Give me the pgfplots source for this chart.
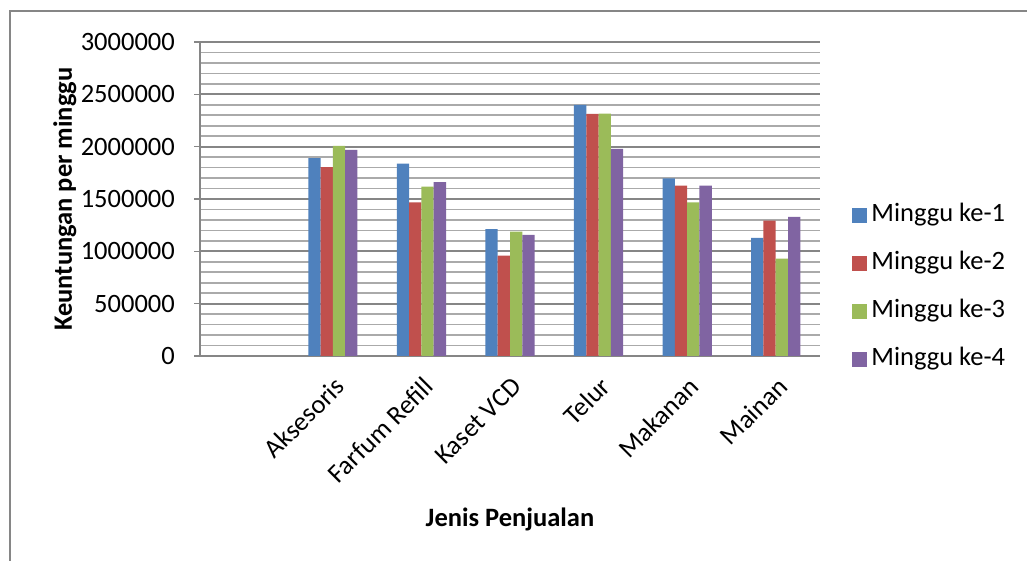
\documentclass[border=0pt]{standalone}
\usepackage{fontspec}
\setmainfont{Carlito}
\usepackage{pgfplots}
\pgfplotsset{compat=1.18}
\definecolor{cblue}{HTML}{4F81BD}
\definecolor{cred}{HTML}{C0504D}
\definecolor{cgreen}{HTML}{9BBB59}
\definecolor{cpurple}{HTML}{8064A2}
\definecolor{axgray}{RGB}{134,134,134}
\definecolor{mingray}{RGB}{170,170,170}
\begin{document}
\begin{tikzpicture}[x=1pt,y=1pt]
\useasboundingbox (0,0) rectangle (1027,561);
\draw[axgray, line width=1.5pt] (10,0) -- (10,550) -- (1027,550);
\begin{axis}[
  at={(200pt,205pt)}, anchor=south west,
  scale only axis, width=620pt, height=314pt,
  xmin=-0.5, xmax=6.5,
  ymin=0, ymax=3000000,
  ybar=0pt, bar width=12.3pt,
  axis x line*=bottom, axis y line*=left,
  axis line style={axgray, line width=2pt, -},
  xtick={1,2,3,4,5,6},
  xticklabels={Aksesoris, Farfum Refill, Kaset VCD, Telur, Makanan, Mainan},
  x tick style={draw=none},
  xticklabel style={xshift=7pt, yshift=-20pt, rotate=45, anchor=east, inner sep=0pt},
  ytick={0,500000,...,3000000},
  minor y tick num=4,
  y tick style={axgray, line width=1.5pt},
  minor y tick style={draw=none},
  tick align=outside, major tick length=6pt,
  ymajorgrids, yminorgrids,
  major grid style={axgray, line width=2pt},
  minor grid style={mingray, line width=1.6pt},
  scaled y ticks=false,
  /pgf/number format/fixed,
  /pgf/number format/1000 sep={},
  /pgf/number format/assume math mode=true,
  yticklabel style={inner sep=0pt, xshift=-19pt},
  tick label style={font=\fontsize{26.5}{31}\selectfont},
  ylabel={\textbf{Keuntungan per minggu}},
  ylabel style={at={(axis description cs:-0.218,0.5)}, anchor=center, font=\fontsize{26.5}{31}\selectfont},
  xlabel={\textbf{Jenis Penjualan}},
  xlabel style={at={(axis description cs:0.5,-0.522)}, anchor=center, font=\fontsize{26.5}{31}\selectfont},
  legend style={at={(rel axis cs:1.052,0.218)}, anchor=west, draw=none, fill=none, inner sep=0pt,
    row sep=25pt, font=\fontsize{26.5}{31}\selectfont,
    nodes={inner sep=0pt, text height=17pt, text depth=6pt}},
  legend cell align=left,
  legend image code/.code={\fill[#1] (0pt,-7.5pt) rectangle (15pt,7.5pt); \path (19pt,0pt);},
]
\addplot[fill=cblue, draw=none] coordinates {(1,1890000) (2,1837000) (3,1211000) (4,2399000) (5,1697000) (6,1128000)};
\addplot[fill=cred, draw=none] coordinates {(1,1805000) (2,1468000) (3,960000) (4,2313000) (5,1627000) (6,1293000)};
\addplot[fill=cgreen, draw=none] coordinates {(1,2008000) (2,1617000) (3,1188000) (4,2316000) (5,1468000) (6,931000)};
\addplot[fill=cpurple, draw=none] coordinates {(1,1970000) (2,1662000) (3,1157000) (4,1980000) (5,1627000) (6,1328000)};
\legend{Minggu ke-1, Minggu ke-2, Minggu ke-3, Minggu ke-4}
\end{axis}
\end{tikzpicture}
\end{document}
